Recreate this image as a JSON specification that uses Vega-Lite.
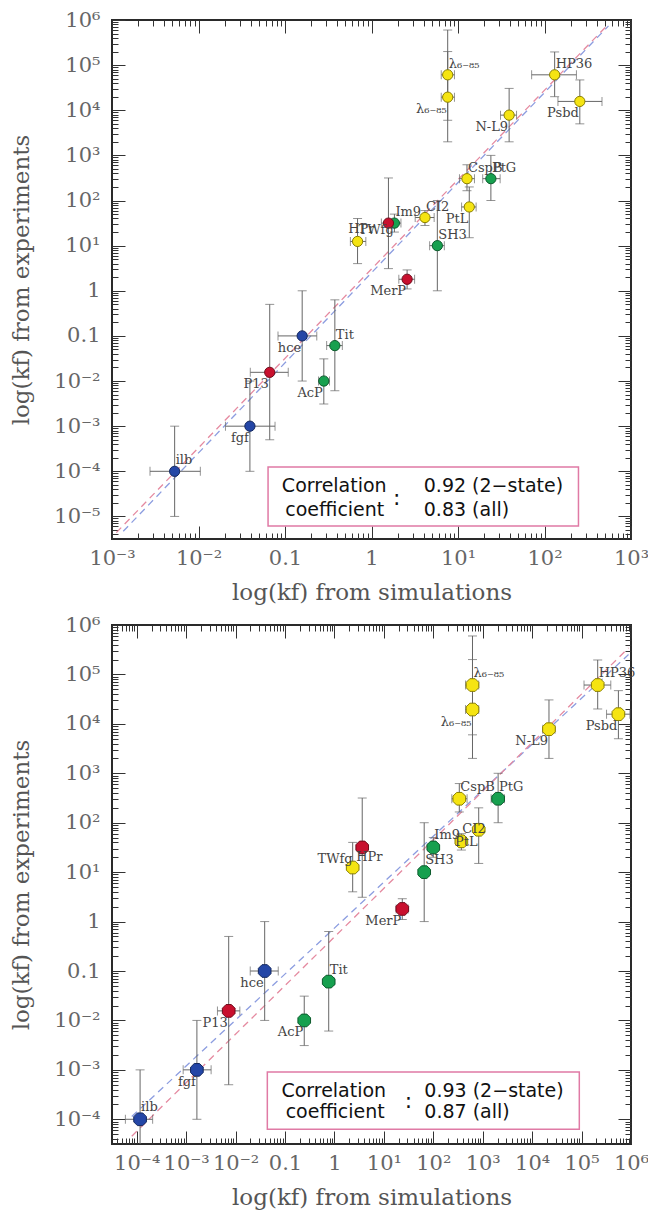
{
"$schema": "https://vega.github.io/schema/vega-lite/v6.json",
"background": "white",
"padding": {"left": 9, "top": 8, "right": 0, "bottom": 0},
"spacing": 8,
"datasets": {
"top": [
{"name":"λ₆₋₈₅","cls":"y","x":7.6,"xlo":6.4,"xhi":9.1,"y":61000,"ylo":6000,"yhi":600000,"side":"ur"},
{"name":"λ₆₋₈₅","cls":"y","x":7.6,"xlo":6.4,"xhi":9.1,"y":19500,"ylo":2000,"yhi":200000,"side":"ll"},
{"name":"HP36","cls":"y","x":131,"xlo":71,"xhi":234,"y":61000,"ylo":20000,"yhi":196000,"side":"ur"},
{"name":"Psbd","cls":"y","x":256,"xlo":143,"xhi":462,"y":15700,"ylo":5000,"yhi":47000,"side":"ll"},
{"name":"N-L9","cls":"y","x":39,"xlo":31,"xhi":47.5,"y":7800,"ylo":2000,"yhi":30500,"side":"ll"},
{"name":"CspB","cls":"y","x":12.7,"xlo":10.4,"xhi":15.5,"y":305,"ylo":165,"yhi":620,"side":"ur"},
{"name":"PtG","cls":"g","x":24,"xlo":19.3,"xhi":30.7,"y":305,"ylo":100,"yhi":1000,"side":"ur"},
{"name":"PtL","cls":"y","x":13.5,"xlo":11,"xhi":16.2,"y":72,"ylo":15,"yhi":200,"side":"ll"},
{"name":"CI2","cls":"y","x":4.15,"xlo":3.2,"xhi":5.3,"y":42,"ylo":28,"yhi":60,"side":"ur"},
{"name":"Im9","cls":"g","x":1.84,"xlo":1.49,"xhi":2.19,"y":31.6,"ylo":20,"yhi":50,"side":"ur"},
{"name":"HPr","cls":"r","x":1.57,"xlo":1.3,"xhi":1.9,"y":31.6,"ylo":3.1,"yhi":316,"side":"l"},
{"name":"TWfg","cls":"y","x":0.69,"xlo":0.57,"xhi":0.86,"y":12.4,"ylo":4,"yhi":40,"side":"ur"},
{"name":"SH3","cls":"g","x":5.77,"xlo":4.7,"xhi":6.95,"y":10,"ylo":1,"yhi":100,"side":"ur"},
{"name":"MerP","cls":"r","x":2.58,"xlo":2.07,"xhi":3.15,"y":1.8,"ylo":1.1,"yhi":2.9,"side":"ll"},
{"name":"Tit","cls":"g","x":0.377,"xlo":0.303,"xhi":0.46,"y":0.061,"ylo":0.0061,"yhi":0.63,"side":"ur"},
{"name":"hce","cls":"b","x":0.158,"xlo":0.083,"xhi":0.233,"y":0.1,"ylo":0.01,"yhi":1,"side":"ll"},
{"name":"AcP","cls":"g","x":0.281,"xlo":0.244,"xhi":0.327,"y":0.01,"ylo":0.0031,"yhi":0.031,"side":"ll"},
{"name":"P13","cls":"r","x":0.0666,"xlo":0.0397,"xhi":0.109,"y":0.0156,"ylo":0.0005,"yhi":0.5,"side":"ll"},
{"name":"fgf","cls":"b","x":0.0393,"xlo":0.0205,"xhi":0.0767,"y":0.001,"ylo":0.0001,"yhi":0.01,"side":"ll"},
{"name":"ilb","cls":"b","x":0.0053,"xlo":0.00275,"xhi":0.0105,"y":0.0001,"ylo":0.00001,"yhi":0.001,"side":"ur"}
],
"bot": [
{"name":"λ₆₋₈₅","cls":"y","x":621,"xlo":450,"xhi":830,"y":61000,"ylo":6000,"yhi":600000,"side":"ur"},
{"name":"λ₆₋₈₅","cls":"y","x":621,"xlo":450,"xhi":830,"y":19500,"ylo":2000,"yhi":200000,"side":"ll"},
{"name":"HP36","cls":"y","x":212000,"xlo":112000,"xhi":390000,"y":61000,"ylo":20000,"yhi":196000,"side":"ur"},
{"name":"Psbd","cls":"y","x":556000,"xlo":320000,"xhi":950000,"y":15700,"ylo":5000,"yhi":47000,"side":"ll"},
{"name":"N-L9","cls":"y","x":21900,"xlo":16400,"xhi":29000,"y":7800,"ylo":2000,"yhi":30500,"side":"ll"},
{"name":"CspB","cls":"y","x":336,"xlo":237,"xhi":483,"y":305,"ylo":165,"yhi":620,"side":"ur"},
{"name":"PtG","cls":"g","x":2050,"xlo":1480,"xhi":2750,"y":305,"ylo":100,"yhi":1000,"side":"ur"},
{"name":"PtL","cls":"y","x":830,"xlo":680,"xhi":1000,"y":72,"ylo":15,"yhi":200,"side":"ll"},
{"name":"CI2","cls":"y","x":370,"xlo":290,"xhi":470,"y":42,"ylo":28,"yhi":60,"side":"ur"},
{"name":"Im9","cls":"g","x":100,"xlo":78,"xhi":128,"y":31.6,"ylo":20,"yhi":50,"side":"ur"},
{"name":"HPr","cls":"r","x":3.65,"xlo":2.9,"xhi":4.6,"y":31.6,"ylo":3.1,"yhi":316,"side":"lr"},
{"name":"TWfg","cls":"y","x":2.34,"xlo":1.9,"xhi":2.9,"y":12.4,"ylo":4,"yhi":40,"side":"ul"},
{"name":"SH3","cls":"g","x":65.5,"xlo":52,"xhi":82,"y":10,"ylo":1,"yhi":100,"side":"ur"},
{"name":"MerP","cls":"r","x":23.6,"xlo":17.7,"xhi":31,"y":1.8,"ylo":1.1,"yhi":2.9,"side":"ll"},
{"name":"Tit","cls":"g","x":0.766,"xlo":0.6,"xhi":0.98,"y":0.061,"ylo":0.0061,"yhi":0.63,"side":"ur"},
{"name":"hce","cls":"b","x":0.0388,"xlo":0.0198,"xhi":0.073,"y":0.1,"ylo":0.01,"yhi":1,"side":"ll"},
{"name":"AcP","cls":"g","x":0.245,"xlo":0.21,"xhi":0.29,"y":0.01,"ylo":0.0031,"yhi":0.031,"side":"ll"},
{"name":"P13","cls":"r","x":0.00726,"xlo":0.0043,"xhi":0.0122,"y":0.0156,"ylo":0.0005,"yhi":0.5,"side":"ll"},
{"name":"fgf","cls":"b","x":0.00165,"xlo":0.00087,"xhi":0.0032,"y":0.001,"ylo":0.0001,"yhi":0.01,"side":"ll"},
{"name":"ilb","cls":"b","x":0.000117,"xlo":0.000059,"xhi":0.00021,"y":0.0001,"ylo":0.00001,"yhi":0.001,"side":"ur"}
],
"fitsTop": [
{"fit":"2-state","x":0.001349,"y":0.00000468},
{"fit":"2-state","x":549.5,"y":741000},
{"fit":"all","x":0.001122,"y":0.00000437},
{"fit":"all","x":524.8,"y":741000}
],
"fitsBot": [
{"fit":"2-state","x":0.0000794,"y":0.0001135},
{"fit":"2-state","x":891000,"y":252000},
{"fit":"all","x":0.0000794,"y":0.0000455},
{"fit":"all","x":891000,"y":344000}
]
},
"vconcat": [
{
"width": 519, "height": 519,
"resolve": {"axis": {"x": "independent", "y": "independent"}},
"layer": [
{"data":{"name":"fitsTop"},"mark":{"type":"line","strokeDash":[7,5],"strokeWidth":1.3,"clip":true},
 "encoding":{
  "x":{"field":"x","type":"quantitative","scale":{"type":"log","domain":[0.001,1000],"nice":false},
   "axis":{"orient":"bottom","values":[0.001,0.01,0.1,1,10,100,1000],"tickSize":-13,"labelPadding":21,"labelExpr":"['10⁻⁶','10⁻⁵','10⁻⁴','10⁻³','10⁻²','0.1','1','10¹','10²','10³','10⁴','10⁵','10⁶'][round(log(datum.value)/LN10)+6]","title":"log(kf) from simulations","titlePadding":13}},
  "y":{"field":"y","type":"quantitative","scale":{"type":"log","domain":[0.0000031623,1000000],"nice":false},
   "axis":{"orient":"left","values":[1e-5,1e-4,0.001,0.01,0.1,1,10,100,1000,10000,100000,1000000],"tickSize":-13,"labelPadding":25,"labelExpr":"['10⁻⁶','10⁻⁵','10⁻⁴','10⁻³','10⁻²','0.1','1','10¹','10²','10³','10⁴','10⁵','10⁶'][round(log(datum.value)/LN10)+6]","title":"log(kf) from experiments","titlePadding":20}},
  "color":{"field":"fit","type":"nominal","scale":{"domain":["2-state","all"],"range":["#8c9de0","#e58aa0"]},"legend":null}}},
{"data":{"name":"top"},"mark":{"type":"rule","color":"#666","strokeWidth":1,"clip":true},
 "encoding":{
  "x":{"field":"x","type":"quantitative","scale":{"type":"log","domain":[0.001,1000],"nice":false},
   "axis":{"orient":"bottom","values":[2e-3,3e-3,4e-3,5e-3,6e-3,7e-3,8e-3,9e-3,2e-2,3e-2,4e-2,5e-2,6e-2,7e-2,8e-2,9e-2,0.2,0.3,0.4,0.5,0.6,0.7,0.8,0.9,2,3,4,5,6,7,8,9,20,30,40,50,60,70,80,90,200,300,400,500,600,700,800,900],"tickSize":-6,"labels":false,"title":null}},
  "y":{"field":"ylo","type":"quantitative","scale":{"type":"log","domain":[0.0000031623,1000000],"nice":false},
   "axis":{"orient":"left","values":[4e-6,5e-6,6e-6,7e-6,8e-6,9e-6,2e-5,3e-5,4e-5,5e-5,6e-5,7e-5,8e-5,9e-5,2e-4,3e-4,4e-4,5e-4,6e-4,7e-4,8e-4,9e-4,2e-3,3e-3,4e-3,5e-3,6e-3,7e-3,8e-3,9e-3,2e-2,3e-2,4e-2,5e-2,6e-2,7e-2,8e-2,9e-2,0.2,0.3,0.4,0.5,0.6,0.7,0.8,0.9,2,3,4,5,6,7,8,9,20,30,40,50,60,70,80,90,200,300,400,500,600,700,800,900,2000,3000,4000,5000,6000,7000,8000,9000,20000,30000,40000,50000,60000,70000,80000,90000,200000,300000,400000,500000,600000,700000,800000,900000],"tickSize":-6,"labels":false,"title":null}},
  "y2":{"field":"yhi"}}},
{"data":{"name":"top"},"mark":{"type":"rule","color":"#666","strokeWidth":1,"clip":true},
 "encoding":{
  "x":{"field":"xlo","type":"quantitative","scale":{"type":"log","domain":[0.001,1000],"nice":false},
   "axis":{"orient":"top","values":[0.001,0.01,0.1,1,10,100,1000],"tickSize":-13,"labels":false,"title":null}},
  "x2":{"field":"xhi"},
  "y":{"field":"y","type":"quantitative","scale":{"type":"log","domain":[0.0000031623,1000000],"nice":false},
   "axis":{"orient":"right","values":[1e-5,1e-4,0.001,0.01,0.1,1,10,100,1000,10000,100000,1000000],"tickSize":-13,"labels":false,"title":null}}}},
{"data":{"name":"top"},"transform":[{"fold":["ylo","yhi"],"as":["k","v"]}],"mark":{"type":"tick","orient":"horizontal","size":9,"thickness":1,"color":"#666","clip":true},
 "encoding":{
  "x":{"field":"x","type":"quantitative","scale":{"type":"log","domain":[0.001,1000],"nice":false},
   "axis":{"orient":"top","values":[2e-3,3e-3,4e-3,5e-3,6e-3,7e-3,8e-3,9e-3,2e-2,3e-2,4e-2,5e-2,6e-2,7e-2,8e-2,9e-2,0.2,0.3,0.4,0.5,0.6,0.7,0.8,0.9,2,3,4,5,6,7,8,9,20,30,40,50,60,70,80,90,200,300,400,500,600,700,800,900],"tickSize":-6,"labels":false,"title":null}},
  "y":{"field":"v","type":"quantitative","scale":{"type":"log","domain":[0.0000031623,1000000],"nice":false},
   "axis":{"orient":"right","values":[4e-6,5e-6,6e-6,7e-6,8e-6,9e-6,2e-5,3e-5,4e-5,5e-5,6e-5,7e-5,8e-5,9e-5,2e-4,3e-4,4e-4,5e-4,6e-4,7e-4,8e-4,9e-4,2e-3,3e-3,4e-3,5e-3,6e-3,7e-3,8e-3,9e-3,2e-2,3e-2,4e-2,5e-2,6e-2,7e-2,8e-2,9e-2,0.2,0.3,0.4,0.5,0.6,0.7,0.8,0.9,2,3,4,5,6,7,8,9,20,30,40,50,60,70,80,90,200,300,400,500,600,700,800,900,2000,3000,4000,5000,6000,7000,8000,9000,20000,30000,40000,50000,60000,70000,80000,90000,200000,300000,400000,500000,600000,700000,800000,900000],"tickSize":-6,"labels":false,"title":null}}}},
{"data":{"name":"top"},"transform":[{"fold":["xlo","xhi"],"as":["k","v"]}],"mark":{"type":"tick","orient":"vertical","size":9,"thickness":1,"color":"#666","clip":true},
 "encoding":{
  "x":{"field":"v","type":"quantitative","scale":{"type":"log","domain":[0.001,1000],"nice":false},"axis":null},
  "y":{"field":"y","type":"quantitative","scale":{"type":"log","domain":[0.0000031623,1000000],"nice":false},"axis":null}}},
{"data":{"values":[{}]},"mark":{"type":"rect","fill":"white","stroke":"#e07aa5","strokeWidth":1.5},
 "encoding":{
  "x":{"datum":0.0637,"type":"quantitative","scale":{"type":"log","domain":[0.001,1000],"nice":false},"axis":null},
  "x2":{"datum":247},
  "y":{"datum":0.000125,"type":"quantitative","scale":{"type":"log","domain":[0.0000031623,1000000],"nice":false},"axis":null},
  "y2":{"datum":0.0000061}}},
{"data":{"values":[{}]},"mark":{"type":"text","text":"Correlation","align":"left","baseline":"middle","font":"DejaVu Sans","fontSize":19,"color":"#111"},
 "encoding":{"x":{"datum":0.092,"type":"quantitative","scale":{"type":"log","domain":[0.001,1000],"nice":false},"axis":null},
  "y":{"datum":0.0000467,"type":"quantitative","scale":{"type":"log","domain":[0.0000031623,1000000],"nice":false},"axis":null}}},
{"data":{"values":[{}]},"mark":{"type":"text","text":"coefficient","align":"left","baseline":"middle","font":"DejaVu Sans","fontSize":19,"color":"#111"},
 "encoding":{"x":{"datum":0.1007,"type":"quantitative","scale":{"type":"log","domain":[0.001,1000],"nice":false},"axis":null},
  "y":{"datum":0.0000141,"type":"quantitative","scale":{"type":"log","domain":[0.0000031623,1000000],"nice":false},"axis":null}}},
{"data":{"values":[{}]},"mark":{"type":"text","text":":","align":"center","baseline":"middle","font":"DejaVu Sans","fontSize":22,"color":"#111"},
 "encoding":{"x":{"datum":1.96,"type":"quantitative","scale":{"type":"log","domain":[0.001,1000],"nice":false},"axis":null},
  "y":{"datum":0.0000257,"type":"quantitative","scale":{"type":"log","domain":[0.0000031623,1000000],"nice":false},"axis":null}}},
{"data":{"values":[{}]},"mark":{"type":"text","text":"0.92 (2−state)","align":"left","baseline":"middle","font":"DejaVu Sans","fontSize":19,"color":"#111"},
 "encoding":{"x":{"datum":4.02,"type":"quantitative","scale":{"type":"log","domain":[0.001,1000],"nice":false},"axis":null},
  "y":{"datum":0.0000467,"type":"quantitative","scale":{"type":"log","domain":[0.0000031623,1000000],"nice":false},"axis":null}}},
{"data":{"values":[{}]},"mark":{"type":"text","text":"0.83 (all)","align":"left","baseline":"middle","font":"DejaVu Sans","fontSize":19,"color":"#111"},
 "encoding":{"x":{"datum":4.02,"type":"quantitative","scale":{"type":"log","domain":[0.001,1000],"nice":false},"axis":null},
  "y":{"datum":0.0000141,"type":"quantitative","scale":{"type":"log","domain":[0.0000031623,1000000],"nice":false},"axis":null}}},
{"data":{"name":"top"},"mark":{"type":"point","shape":"circle","filled":true,"size":105,"strokeWidth":1,"opacity":1},
 "encoding":{
  "x":{"field":"x","type":"quantitative","scale":{"type":"log","domain":[0.001,1000],"nice":false},"axis":null},
  "y":{"field":"y","type":"quantitative","scale":{"type":"log","domain":[0.0000031623,1000000],"nice":false},"axis":null},
  "fill":{"field":"cls","type":"nominal","scale":{"domain":["y","g","r","b"],"range":["#f5e412","#17a04f","#c8102e","#2446a6"]},"legend":null},
  "stroke":{"field":"cls","type":"nominal","scale":{"domain":["y","g","r","b"],"range":["#8a7f00","#0c5a2c","#6e0a1a","#14285e"]},"legend":null}}},
{"data":{"name":"top"},"transform":[{"filter":"datum.side == 'ur'"}],"mark":{"type":"text","align":"left","baseline":"middle","dx":1,"dy":-11,"font":"DejaVu Serif","fontSize":13,"color":"#444"},
 "encoding":{"x":{"field":"x","type":"quantitative","scale":{"type":"log","domain":[0.001,1000],"nice":false},"axis":null},
  "y":{"field":"y","type":"quantitative","scale":{"type":"log","domain":[0.0000031623,1000000],"nice":false},"axis":null},
  "text":{"field":"name"}}},
{"data":{"name":"top"},"transform":[{"filter":"datum.side == 'll'"}],"mark":{"type":"text","align":"right","baseline":"middle","dx":-1,"dy":12,"font":"DejaVu Serif","fontSize":13,"color":"#444"},
 "encoding":{"x":{"field":"x","type":"quantitative","scale":{"type":"log","domain":[0.001,1000],"nice":false},"axis":null},
  "y":{"field":"y","type":"quantitative","scale":{"type":"log","domain":[0.0000031623,1000000],"nice":false},"axis":null},
  "text":{"field":"name"}}},
{"data":{"name":"top"},"transform":[{"filter":"datum.side == 'l'"}],"mark":{"type":"text","align":"right","baseline":"middle","dx":-14,"dy":6,"font":"DejaVu Serif","fontSize":13,"color":"#444"},
 "encoding":{"x":{"field":"x","type":"quantitative","scale":{"type":"log","domain":[0.001,1000],"nice":false},"axis":null},
  "y":{"field":"y","type":"quantitative","scale":{"type":"log","domain":[0.0000031623,1000000],"nice":false},"axis":null},
  "text":{"field":"name"}}}
]
},
{
"width": 519, "height": 519,
"resolve": {"axis": {"x": "independent", "y": "independent"}},
"layer": [
{"data":{"name":"fitsBot"},"mark":{"type":"line","strokeDash":[7,5],"strokeWidth":1.3,"clip":true},
 "encoding":{
  "x":{"field":"x","type":"quantitative","scale":{"type":"log","domain":[0.000031623,1000000],"nice":false},
   "axis":{"orient":"bottom","values":[0.0001,0.001,0.01,0.1,1,10,100,1000,10000,100000,1000000],"tickSize":-13,"labelPadding":21,"labelExpr":"['10⁻⁶','10⁻⁵','10⁻⁴','10⁻³','10⁻²','0.1','1','10¹','10²','10³','10⁴','10⁵','10⁶'][round(log(datum.value)/LN10)+6]","title":"log(kf) from simulations","titlePadding":13}},
  "y":{"field":"y","type":"quantitative","scale":{"type":"log","domain":[0.000031623,1000000],"nice":false},
   "axis":{"orient":"left","values":[0.0001,0.001,0.01,0.1,1,10,100,1000,10000,100000,1000000],"tickSize":-13,"labelPadding":25,"labelExpr":"['10⁻⁶','10⁻⁵','10⁻⁴','10⁻³','10⁻²','0.1','1','10¹','10²','10³','10⁴','10⁵','10⁶'][round(log(datum.value)/LN10)+6]","title":"log(kf) from experiments","titlePadding":20}},
  "color":{"field":"fit","type":"nominal","scale":{"domain":["2-state","all"],"range":["#8c9de0","#e58aa0"]},"legend":null}}},
{"data":{"name":"bot"},"mark":{"type":"rule","color":"#666","strokeWidth":1,"clip":true},
 "encoding":{
  "x":{"field":"x","type":"quantitative","scale":{"type":"log","domain":[0.000031623,1000000],"nice":false},
   "axis":{"orient":"bottom","values":[4e-5,5e-5,6e-5,7e-5,8e-5,9e-5,2e-4,3e-4,4e-4,5e-4,6e-4,7e-4,8e-4,9e-4,2e-3,3e-3,4e-3,5e-3,6e-3,7e-3,8e-3,9e-3,2e-2,3e-2,4e-2,5e-2,6e-2,7e-2,8e-2,9e-2,0.2,0.3,0.4,0.5,0.6,0.7,0.8,0.9,2,3,4,5,6,7,8,9,20,30,40,50,60,70,80,90,200,300,400,500,600,700,800,900,2000,3000,4000,5000,6000,7000,8000,9000,20000,30000,40000,50000,60000,70000,80000,90000,200000,300000,400000,500000,600000,700000,800000,900000],"tickSize":-6,"labels":false,"title":null}},
  "y":{"field":"ylo","type":"quantitative","scale":{"type":"log","domain":[0.000031623,1000000],"nice":false},
   "axis":{"orient":"left","values":[4e-5,5e-5,6e-5,7e-5,8e-5,9e-5,2e-4,3e-4,4e-4,5e-4,6e-4,7e-4,8e-4,9e-4,2e-3,3e-3,4e-3,5e-3,6e-3,7e-3,8e-3,9e-3,2e-2,3e-2,4e-2,5e-2,6e-2,7e-2,8e-2,9e-2,0.2,0.3,0.4,0.5,0.6,0.7,0.8,0.9,2,3,4,5,6,7,8,9,20,30,40,50,60,70,80,90,200,300,400,500,600,700,800,900,2000,3000,4000,5000,6000,7000,8000,9000,20000,30000,40000,50000,60000,70000,80000,90000,200000,300000,400000,500000,600000,700000,800000,900000],"tickSize":-6,"labels":false,"title":null}},
  "y2":{"field":"yhi"}}},
{"data":{"name":"bot"},"mark":{"type":"rule","color":"#666","strokeWidth":1,"clip":true},
 "encoding":{
  "x":{"field":"xlo","type":"quantitative","scale":{"type":"log","domain":[0.000031623,1000000],"nice":false},
   "axis":{"orient":"top","values":[0.0001,0.001,0.01,0.1,1,10,100,1000,10000,100000,1000000],"tickSize":-13,"labels":false,"title":null}},
  "x2":{"field":"xhi"},
  "y":{"field":"y","type":"quantitative","scale":{"type":"log","domain":[0.000031623,1000000],"nice":false},
   "axis":{"orient":"right","values":[0.0001,0.001,0.01,0.1,1,10,100,1000,10000,100000,1000000],"tickSize":-13,"labels":false,"title":null}}}},
{"data":{"name":"bot"},"transform":[{"fold":["ylo","yhi"],"as":["k","v"]}],"mark":{"type":"tick","orient":"horizontal","size":9,"thickness":1,"color":"#666","clip":true},
 "encoding":{
  "x":{"field":"x","type":"quantitative","scale":{"type":"log","domain":[0.000031623,1000000],"nice":false},
   "axis":{"orient":"top","values":[4e-5,5e-5,6e-5,7e-5,8e-5,9e-5,2e-4,3e-4,4e-4,5e-4,6e-4,7e-4,8e-4,9e-4,2e-3,3e-3,4e-3,5e-3,6e-3,7e-3,8e-3,9e-3,2e-2,3e-2,4e-2,5e-2,6e-2,7e-2,8e-2,9e-2,0.2,0.3,0.4,0.5,0.6,0.7,0.8,0.9,2,3,4,5,6,7,8,9,20,30,40,50,60,70,80,90,200,300,400,500,600,700,800,900,2000,3000,4000,5000,6000,7000,8000,9000,20000,30000,40000,50000,60000,70000,80000,90000,200000,300000,400000,500000,600000,700000,800000,900000],"tickSize":-6,"labels":false,"title":null}},
  "y":{"field":"v","type":"quantitative","scale":{"type":"log","domain":[0.000031623,1000000],"nice":false},
   "axis":{"orient":"right","values":[4e-5,5e-5,6e-5,7e-5,8e-5,9e-5,2e-4,3e-4,4e-4,5e-4,6e-4,7e-4,8e-4,9e-4,2e-3,3e-3,4e-3,5e-3,6e-3,7e-3,8e-3,9e-3,2e-2,3e-2,4e-2,5e-2,6e-2,7e-2,8e-2,9e-2,0.2,0.3,0.4,0.5,0.6,0.7,0.8,0.9,2,3,4,5,6,7,8,9,20,30,40,50,60,70,80,90,200,300,400,500,600,700,800,900,2000,3000,4000,5000,6000,7000,8000,9000,20000,30000,40000,50000,60000,70000,80000,90000,200000,300000,400000,500000,600000,700000,800000,900000],"tickSize":-6,"labels":false,"title":null}}}},
{"data":{"name":"bot"},"transform":[{"fold":["xlo","xhi"],"as":["k","v"]}],"mark":{"type":"tick","orient":"vertical","size":9,"thickness":1,"color":"#666","clip":true},
 "encoding":{
  "x":{"field":"v","type":"quantitative","scale":{"type":"log","domain":[0.000031623,1000000],"nice":false},"axis":null},
  "y":{"field":"y","type":"quantitative","scale":{"type":"log","domain":[0.000031623,1000000],"nice":false},"axis":null}}},
{"data":{"values":[{}]},"mark":{"type":"rect","fill":"white","stroke":"#e07aa5","strokeWidth":1.5},
 "encoding":{
  "x":{"datum":0.0439,"type":"quantitative","scale":{"type":"log","domain":[0.000031623,1000000],"nice":false},"axis":null},
  "x2":{"datum":90000},
  "y":{"datum":0.00091,"type":"quantitative","scale":{"type":"log","domain":[0.000031623,1000000],"nice":false},"axis":null},
  "y2":{"datum":0.000063}}},
{"data":{"values":[{}]},"mark":{"type":"text","text":"Correlation","align":"left","baseline":"middle","font":"DejaVu Sans","fontSize":19,"color":"#111"},
 "encoding":{"x":{"datum":0.0845,"type":"quantitative","scale":{"type":"log","domain":[0.000031623,1000000],"nice":false},"axis":null},
  "y":{"datum":0.000382,"type":"quantitative","scale":{"type":"log","domain":[0.000031623,1000000],"nice":false},"axis":null}}},
{"data":{"values":[{}]},"mark":{"type":"text","text":"coefficient","align":"left","baseline":"middle","font":"DejaVu Sans","fontSize":19,"color":"#111"},
 "encoding":{"x":{"datum":0.103,"type":"quantitative","scale":{"type":"log","domain":[0.000031623,1000000],"nice":false},"axis":null},
  "y":{"datum":0.000142,"type":"quantitative","scale":{"type":"log","domain":[0.000031623,1000000],"nice":false},"axis":null}}},
{"data":{"values":[{}]},"mark":{"type":"text","text":":","align":"center","baseline":"middle","font":"DejaVu Sans","fontSize":22,"color":"#111"},
 "encoding":{"x":{"datum":31.6,"type":"quantitative","scale":{"type":"log","domain":[0.000031623,1000000],"nice":false},"axis":null},
  "y":{"datum":0.000233,"type":"quantitative","scale":{"type":"log","domain":[0.000031623,1000000],"nice":false},"axis":null}}},
{"data":{"values":[{}]},"mark":{"type":"text","text":"0.93 (2−state)","align":"left","baseline":"middle","font":"DejaVu Sans","fontSize":19,"color":"#111"},
 "encoding":{"x":{"datum":66,"type":"quantitative","scale":{"type":"log","domain":[0.000031623,1000000],"nice":false},"axis":null},
  "y":{"datum":0.000382,"type":"quantitative","scale":{"type":"log","domain":[0.000031623,1000000],"nice":false},"axis":null}}},
{"data":{"values":[{}]},"mark":{"type":"text","text":"0.87 (all)","align":"left","baseline":"middle","font":"DejaVu Sans","fontSize":19,"color":"#111"},
 "encoding":{"x":{"datum":66,"type":"quantitative","scale":{"type":"log","domain":[0.000031623,1000000],"nice":false},"axis":null},
  "y":{"datum":0.000142,"type":"quantitative","scale":{"type":"log","domain":[0.000031623,1000000],"nice":false},"axis":null}}},
{"data":{"name":"bot"},"mark":{"type":"point","shape":"M-0.42,-1L0.42,-1L1,-0.42L1,0.42L0.42,1L-0.42,1L-1,0.42L-1,-0.42Z","filled":true,"size":160,"strokeWidth":1,"opacity":1},
 "encoding":{
  "x":{"field":"x","type":"quantitative","scale":{"type":"log","domain":[0.000031623,1000000],"nice":false},"axis":null},
  "y":{"field":"y","type":"quantitative","scale":{"type":"log","domain":[0.000031623,1000000],"nice":false},"axis":null},
  "fill":{"field":"cls","type":"nominal","scale":{"domain":["y","g","r","b"],"range":["#f5e412","#17a04f","#c8102e","#2446a6"]},"legend":null},
  "stroke":{"field":"cls","type":"nominal","scale":{"domain":["y","g","r","b"],"range":["#8a7f00","#0c5a2c","#6e0a1a","#14285e"]},"legend":null}}},
{"data":{"name":"bot"},"transform":[{"filter":"datum.side == 'ur'"}],"mark":{"type":"text","align":"left","baseline":"middle","dx":1,"dy":-12,"font":"DejaVu Serif","fontSize":13,"color":"#444"},
 "encoding":{"x":{"field":"x","type":"quantitative","scale":{"type":"log","domain":[0.000031623,1000000],"nice":false},"axis":null},
  "y":{"field":"y","type":"quantitative","scale":{"type":"log","domain":[0.000031623,1000000],"nice":false},"axis":null},
  "text":{"field":"name"}}},
{"data":{"name":"bot"},"transform":[{"filter":"datum.side == 'll'"}],"mark":{"type":"text","align":"right","baseline":"middle","dx":-1,"dy":12,"font":"DejaVu Serif","fontSize":13,"color":"#444"},
 "encoding":{"x":{"field":"x","type":"quantitative","scale":{"type":"log","domain":[0.000031623,1000000],"nice":false},"axis":null},
  "y":{"field":"y","type":"quantitative","scale":{"type":"log","domain":[0.000031623,1000000],"nice":false},"axis":null},
  "text":{"field":"name"}}},
{"data":{"name":"bot"},"transform":[{"filter":"datum.side == 'ul'"}],"mark":{"type":"text","align":"right","baseline":"middle","dx":0,"dy":-9,"font":"DejaVu Serif","fontSize":13,"color":"#444"},
 "encoding":{"x":{"field":"x","type":"quantitative","scale":{"type":"log","domain":[0.000031623,1000000],"nice":false},"axis":null},
  "y":{"field":"y","type":"quantitative","scale":{"type":"log","domain":[0.000031623,1000000],"nice":false},"axis":null},
  "text":{"field":"name"}}},
{"data":{"name":"bot"},"transform":[{"filter":"datum.side == 'lr'"}],"mark":{"type":"text","align":"left","baseline":"middle","dx":-6,"dy":10,"font":"DejaVu Serif","fontSize":13,"color":"#444"},
 "encoding":{"x":{"field":"x","type":"quantitative","scale":{"type":"log","domain":[0.000031623,1000000],"nice":false},"axis":null},
  "y":{"field":"y","type":"quantitative","scale":{"type":"log","domain":[0.000031623,1000000],"nice":false},"axis":null},
  "text":{"field":"name"}}}
]
}
],
"config": {
 "view": {"stroke": "#2a2a2a", "strokeWidth": 2},
 "axis": {"grid": false, "domain": false, "tickColor": "#333", "tickWidth": 1, "labelFont": "DejaVu Serif", "labelFontSize": 21, "labelColor": "#666", "titleFont": "DejaVu Serif", "titleFontSize": 23, "titleFontWeight": "normal", "titleColor": "#555", "labelOverlap": false, "labelFlush": false}
}
}
